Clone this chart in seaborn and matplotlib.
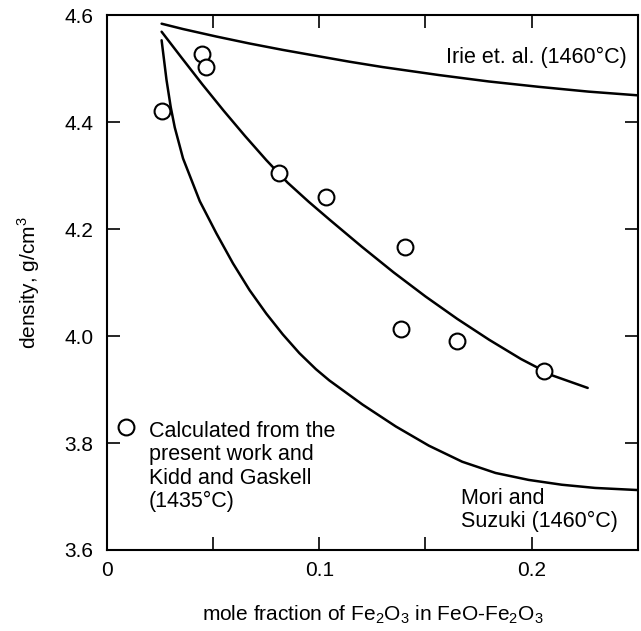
import pandas as pd
import matplotlib
matplotlib.use("Agg")
import matplotlib.pyplot as plt
import seaborn as sns

# measured points (calculated from present work + Kidd and Gaskell, 1435C)
pts_x = [0.026, 0.0446, 0.0465, 0.0808, 0.1033, 0.1404, 0.1385, 0.165, 0.2056]
pts_y = [4.421, 4.527, 4.503, 4.305, 4.260, 4.166, 4.013, 3.991, 3.935]

# Irie et al. (1460C)
irie_x = [0.0257, 0.0358, 0.0515, 0.0671, 0.0828, 0.0984, 0.1141, 0.1297,
          0.1563, 0.1798, 0.2033, 0.2268, 0.2502]
irie_y = [4.584, 4.574, 4.560, 4.547, 4.535, 4.524, 4.513, 4.503,
          4.488, 4.476, 4.466, 4.457, 4.450]

# fitted curve through the points
fit_x = [0.0257, 0.035, 0.045, 0.055, 0.065, 0.075, 0.085, 0.095, 0.105,
         0.12, 0.135, 0.15, 0.165, 0.18, 0.195, 0.21, 0.2264]
fit_y = [4.569, 4.521, 4.470, 4.421, 4.374, 4.329, 4.287, 4.251, 4.217,
         4.167, 4.119, 4.074, 4.032, 3.993, 3.957, 3.926, 3.903]

# Mori and Suzuki (1460C)
mori_x = [0.0257, 0.0280, 0.0300, 0.0319, 0.0358, 0.0437, 0.0515, 0.0593,
          0.0671, 0.0750, 0.0828, 0.0906, 0.0984, 0.1047, 0.1203, 0.1360,
          0.1516, 0.1673, 0.1830, 0.1986, 0.2142, 0.2299, 0.2502]
mori_y = [4.553, 4.479, 4.428, 4.390, 4.332, 4.252, 4.192, 4.136,
          4.086, 4.042, 4.003, 3.968, 3.938, 3.917, 3.872, 3.831,
          3.795, 3.765, 3.744, 3.731, 3.722, 3.716, 3.712]

x_ticks = [0, 0.05, 0.1, 0.15, 0.2, 0.25]
x_ticklabels = ["0", "", "0.1", "", "0.2", ""]
y_ticks = [3.6, 3.8, 4.0, 4.2, 4.4, 4.6]
y_ticklabels = ["3.6", "3.8", "4.0", "4.2", "4.4", "4.6"]

sns.set_style("ticks")
plt.rcParams["font.family"] = ["Liberation Sans", "DejaVu Sans"]
plt.rcParams["mathtext.fontset"] = "custom"
plt.rcParams["mathtext.rm"] = "Liberation Sans"
plt.rcParams["text.color"] = "black"
plt.rcParams["axes.labelcolor"] = "black"

fig = plt.figure(figsize=(6.41, 6.31), dpi=100)
ax = fig.add_axes([0.167, 0.1284, 0.828, 0.8476])

for cx, cy in [(irie_x, irie_y), (fit_x, fit_y), (mori_x, mori_y)]:
    df = pd.DataFrame({"x": cx, "y": cy})
    sns.lineplot(data=df, x="x", y="y", ax=ax, color="black", lw=1.8,
                 sort=True, estimator=None)

pts = pd.DataFrame({"x": pts_x, "y": pts_y})
sns.scatterplot(data=pts, x="x", y="y", ax=ax, marker="o", s=130,
                facecolor="white", edgecolor="black", linewidth=1.5, zorder=5)

ax.set_xlim(0, 0.25)
ax.set_ylim(3.6, 4.6)
ax.set_xticks(x_ticks)
ax.set_xticklabels(x_ticklabels)
ax.set_yticks(y_ticks)
ax.set_yticklabels(y_ticklabels)
ax.tick_params(direction="in", length=9.5, width=1.2, top=True, right=True,
               labelsize=15, colors="black", pad=8)
ax.tick_params(axis="y", pad=10)
for s in ax.spines.values():
    s.set_linewidth(1.5)
    s.set_color("black")

ax.set_xlabel(r"mole fraction of Fe$_\mathregular{2}$O$_\mathregular{3}$ in FeO-Fe$_\mathregular{2}$O$_\mathregular{3}$",
              fontsize=15, labelpad=17)
ax.set_ylabel(r"density, g/cm$^\mathregular{3}$", fontsize=15, labelpad=16)

ax.text(0.2446, 4.521, "Irie et. al. (1460°C)", ha="right", va="center",
        fontsize=15.5)
ax.text(0.1667, 3.675, "Mori and\nSuzuki (1460°C)", ha="left", va="center",
        fontsize=15.5, linespacing=1.15)
ax.scatter([0.0089], [3.830], marker="o", s=130, facecolor="white",
           edgecolor="black", linewidth=1.5, zorder=5)
ax.text(0.0197, 3.756,
        "Calculated from the\npresent work and\nKidd and Gaskell\n(1435°C)",
        ha="left", va="center", fontsize=15.5, linespacing=1.15)

fig.savefig("out.png", dpi=100)
